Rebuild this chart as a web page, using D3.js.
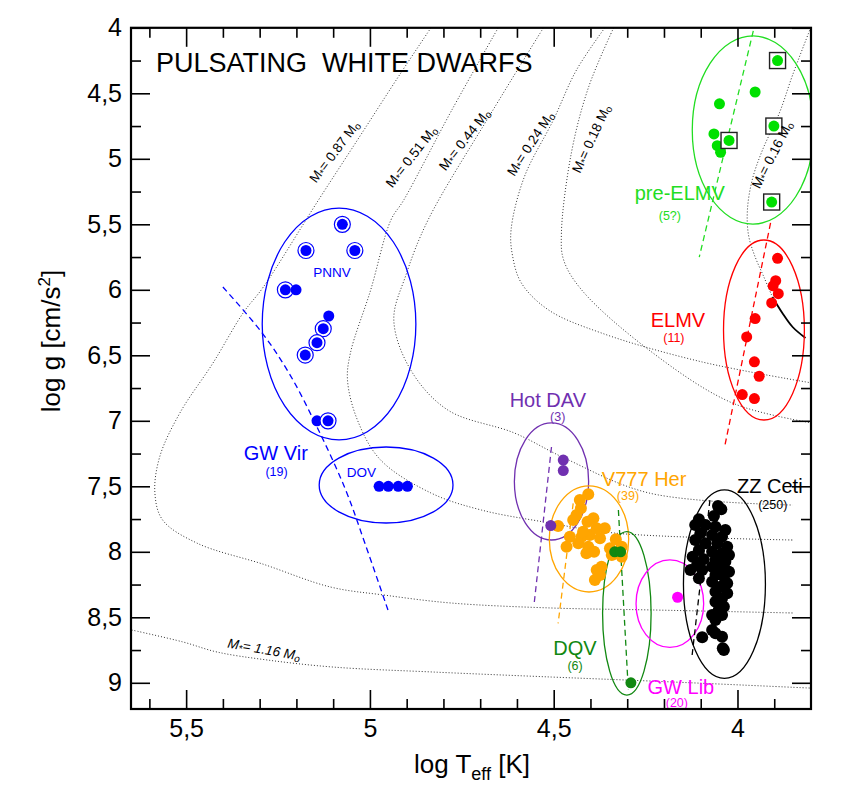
<!DOCTYPE html>
<html><head><meta charset="utf-8">
<script src="https://cdn.jsdelivr.net/npm/d3@7"></script>
<style>body{margin:0;background:#fff;} svg text{font-family:"Liberation Sans",Arial,Helvetica,sans-serif;}</style>
</head><body><svg id="c" width="863" height="796"></svg>
<script>
// ---------- DATA (log Teff, log g) ----------
const xMajor = [5.5, 5, 4.5, 4];
const xMinor = [5.6,5.4,5.3,5.2,5.1,4.9,4.8,4.7,4.6,4.4,4.3,4.2,4.1,3.9];
const yMajor = [4,4.5,5,5.5,6,6.5,7,7.5,8,8.5,9];
const yMinor = [4.25,4.75,5.25,5.75,6.25,6.75,7.25,7.75,8.25,8.75];

// evolutionary tracks
const track087 = [[4.834,4.0],[4.916,4.345],[5.025,4.818],[5.14,5.315],[5.29,5.979],[5.345,6.177],[5.427,6.559],[5.517,6.94],[5.572,7.276],[5.585,7.551],[5.564,7.757],[5.471,7.933],[5.29,8.095],[5.107,8.269],[4.962,8.33],[4.779,8.391],[4.506,8.429],[4.233,8.444],[3.85,8.467]];
const track051 = [[4.651,4.0],[4.777,4.627],[4.908,5.315],[4.943,5.468],[4.998,6.002],[5.053,6.482],[5.061,6.689],[5.034,6.994],[4.971,7.299],[4.834,7.551],[4.697,7.681],[4.525,7.773],[4.334,7.857],[3.85,7.91]];
const track044 = [[4.528,4.0],[4.665,4.627],[4.842,5.468],[4.902,5.887],[4.935,6.231],[4.889,6.612],[4.788,6.918],[4.607,7.093],[4.471,7.284],[4.241,7.551],[3.85,7.643]];
const track024 = [[4.361,4.0],[4.438,4.322],[4.501,4.704],[4.58,5.139],[4.616,5.544],[4.612,5.74],[4.588,5.948],[4.514,6.154],[4.37,6.33],[4.096,6.551],[3.796,6.712]];
const track018 = [[4.337,4.0],[4.405,4.452],[4.452,4.956],[4.479,5.566],[4.473,5.772],[4.424,6.001],[4.241,6.459],[4.014,6.864],[3.796,7.017]];
const track016 = [[3.801,4.0],[3.85,4.36],[3.886,4.65],[3.932,4.933],[3.96,5.162],[3.973,5.391],[3.97,5.582],[3.954,5.734],[3.927,5.91],[3.905,6.055]];
const track016solid = [[3.905,6.055],[3.878,6.177],[3.85,6.284],[3.815,6.368]];
const track116 = [[5.648,8.597],[5.509,8.688],[5.416,8.765],[5.279,8.826],[5.099,8.88],[4.826,8.918],[4.506,8.956],[4.233,8.987],[3.796,9.041]];
const trackMasses = ["0.87","0.51","0.44","0.24","0.18","0.16","1.16"];
const trackLabelPos = [[5.095,4.948,-53],[4.886,4.986,-52],[4.741,4.856,-52],[4.562,4.887,-57],[4.396,4.849,-65],[3.904,4.971,-63],[5.288,8.75,10]];

// instability strips (dashed)
const gwVirStrip = [[5.4,5.979],[5.293,6.33],[5.217,6.651],[5.14,7.07],[5.066,7.528],[5.012,7.948],[4.949,8.46]];
const hotDavStrip = [[4.506,7.2],[4.553,8.391]];
const v777Strip = [[4.447,7.63],[4.488,8.546]];
const dqvStrip = [[4.324,7.681],[4.297,9.055]];
const zzStrip = [[4.075,7.605],[4.124,8.803]];
const elmvStrip = [[3.91,5.49],[4.034,7.185]];
const preElmvStrip = [[3.957,4.024],[4.104,5.75]];

// class regions: [Teff left, Teff right, logg top, logg bottom]
const pnnvRegion = [5.293,4.875,5.376,7.146];
const dovRegion = [5.138,4.774,7.20,7.78];
const hotDavRegion = [4.607,4.405,7.016,7.91];
const v777Region = [4.512,4.296,7.497,8.307];
const dqvRegion = [4.367,4.235,7.846,9.094];
const gwLibRegion = [4.276,4.092,8.062,8.73];
const zzRegion = [4.147,3.924,7.528,8.966];
const elmvRegion = [4.038,3.818,5.62,6.994];
const preElmvRegion = [4.123,3.793,4.062,5.498];

// stars: [log Teff, log g, ringed]
const gwVirPts = [[5.075,5.5,1],[5.174,5.70,1],[5.041,5.70,1],[5.23,6.0,1],[5.201,6.0,0],[5.112,6.2,0],[5.127,6.297,1],[5.144,6.404,1],[5.176,6.498,1],[5.144,7.0,0],[5.114,7.0,1]];
const dovPts = [[4.975,7.5],[4.95,7.5],[4.923,7.5],[4.898,7.5]];
const hotDavPts = [[4.474,7.30],[4.474,7.38],[4.508,7.80]];
const v777Pts = [[4.406,7.561],[4.429,7.605],[4.426,7.668],[4.438,7.719],[4.392,7.744],[4.408,7.770],[4.488,7.803],[4.447,7.757],[4.361,7.821],[4.456,7.885],[4.424,7.885],[4.402,7.872],[4.374,7.897],[4.331,7.905],[4.465,7.961],[4.433,7.935],[4.406,7.961],[4.390,7.999],[4.411,8.011],[4.347,7.973],[4.315,7.961],[4.342,8.024],[4.315,8.037],[4.370,8.114],[4.383,8.139],[4.388,8.215],[4.374,8.177],[4.420,7.847],[4.383,7.821]];
const dqvPts = [[4.334,8.0],[4.318,8.0],[4.29,9.0]];
const gwLibPts = [[4.163,8.347]];
const zzPts = [[4.053,7.650],[4.044,7.676],[4.064,7.727],[4.105,7.752],[4.115,7.795],[4.087,7.795],[4.060,7.808],[4.033,7.834],[4.101,7.859],[4.069,7.872],[4.042,7.885],[4.115,7.910],[4.087,7.935],[4.055,7.935],[4.028,7.961],[4.105,7.986],[4.069,7.999],[4.042,8.011],[4.023,8.024],[4.122,8.037],[4.092,8.057],[4.060,8.063],[4.033,8.076],[4.110,8.101],[4.069,8.114],[4.042,8.126],[4.128,8.139],[4.096,8.139],[4.023,8.152],[4.060,8.177],[4.037,8.190],[4.105,8.202],[4.069,8.228],[4.028,8.240],[4.046,8.266],[4.060,8.305],[4.028,8.317],[4.042,8.355],[4.060,8.381],[4.037,8.419],[4.051,8.444],[4.069,8.482],[4.042,8.482],[4.060,8.521],[4.069,8.597],[4.060,8.622],[4.096,8.653],[4.042,8.648],[4.040,8.737],[4.037,8.750]];
const elmvPts = [[3.891,5.76],[3.896,5.93],[3.903,5.97],[3.889,6.03],[3.907,6.10],[3.952,6.22],[3.975,6.36],[3.954,6.55],[3.941,6.66],[3.987,6.80],[3.954,6.83]];
const preElmvPts = [[3.952,4.49,0],[4.049,4.58,0],[4.064,4.81,0],[4.055,4.90,0],[4.046,4.95,0],[3.891,4.25,1],[4.023,4.86,1],[3.901,4.75,1],[3.907,5.33,1]];

// class labels: [name, count, Teff, logg, color]
const classLabels = [
  ["GW Vir","(19)",5.256,7.299,"#0000ff"],
  ["Hot DAV","(3)",4.516,6.895,"#7030b0"],
  ["V777 Her","(39)",4.254,7.498,"#ffa500"],
  ["DQV","(6)",4.442,8.788,"#118811"],
  ["GW Lib","(20)",4.154,9.082,"#ff00ff"],
  ["ZZ Ceti","(250)",3.912,7.551,"#000000"],
  ["ELMV","(11)",4.162,6.284,"#ff0000"],
  ["pre-ELMV","(5?)",4.157,5.315,"#22dd22"]
];
const countOffsets = [[-0.002,0.125],[-0.027,0.105],[0.044,0.11],[0,0.112],[0.011,0.104],[-0.008,0.125],[0.011,0.118],[0.027,0.155]];

// ---------- DRAW ----------
const svg = d3.select("#c");
const L=131, R=811, T=27.8, B=709;
const x = d3.scaleLinear().domain([5.65,3.80]).range([L,R]);
const y = d3.scaleLinear().domain([4,9.2]).range([T,B]);
const fmt = d => String(d).replace(".", ",");

svg.append("rect").attr("width",863).attr("height",796).attr("fill","#fff");
svg.append("clipPath").attr("id","clip").append("rect").attr("x",L).attr("y",T).attr("width",R-L).attr("height",B-T);
const plot = svg.append("g").attr("clip-path","url(#clip)");

const line = d3.line().x(d=>x(d[0])).y(d=>y(d[1])).curve(d3.curveCatmullRom.alpha(0.5));
const straight = d3.line().x(d=>x(d[0])).y(d=>y(d[1]));

// tracks
[track087,track051,track044,track024,track018,track016,track116].forEach(t=>{
  plot.append("path").attr("d",line(t)).attr("fill","none").attr("stroke","#333")
    .attr("stroke-width",1).attr("stroke-dasharray","1,2");
});
plot.append("path").attr("d",line(track016solid)).attr("fill","none").attr("stroke","#000").attr("stroke-width",1.8);

// track labels
trackMasses.forEach((m,i)=>{
  const p = trackLabelPos[i];
  const t = svg.append("text").attr("transform",`translate(${x(p[0])},${y(p[1])}) rotate(${p[2]})`)
    .attr("text-anchor","middle").attr("dominant-baseline","middle").attr("font-size",13.5).attr("fill","#000")
    .attr("font-style", m==="1.16" ? "italic" : "normal");
  t.append("tspan").text("M");
  t.append("tspan").attr("font-size",10).attr("dy",3).text("*");
  t.append("tspan").attr("dy",-3).text("= "+m+" M");
  t.append("tspan").attr("font-size",10).attr("dy",3).text("o");
});

// regions (ellipses)
function ell(r,color){
  const cx=(x(r[0])+x(r[1]))/2, cy=(y(r[2])+y(r[3]))/2;
  plot.append("ellipse").attr("cx",cx).attr("cy",cy)
    .attr("rx",Math.abs(x(r[1])-x(r[0]))/2).attr("ry",Math.abs(y(r[3])-y(r[2]))/2)
    .attr("fill","none").attr("stroke",color).attr("stroke-width",1.3);
}
ell(pnnvRegion,"#0000ff"); ell(dovRegion,"#0000ff"); ell(hotDavRegion,"#7030b0");
ell(v777Region,"#ffa500"); ell(dqvRegion,"#118811"); ell(gwLibRegion,"#ff00ff");
ell(zzRegion,"#000000"); ell(elmvRegion,"#ff0000"); ell(preElmvRegion,"#22dd22");

// strips
function strip(s,color,curved){
  plot.append("path").attr("d",(curved?line:straight)(s)).attr("fill","none").attr("stroke",color)
    .attr("stroke-width",1.3).attr("stroke-dasharray","6,4");
}
strip(gwVirStrip,"#0000ff",true); strip(hotDavStrip,"#7030b0"); strip(v777Strip,"#ffa500");
strip(dqvStrip,"#118811"); strip(zzStrip,"#000000"); strip(elmvStrip,"#ff0000"); strip(preElmvStrip,"#22dd22");

// points
function dots(pts,color,r){
  pts.forEach(p=>{
    plot.append("circle").attr("cx",x(p[0])).attr("cy",y(p[1])).attr("r",r||5.5).attr("fill",color);
  });
}
gwVirPts.forEach(p=>{
  if(p[2]){
    plot.append("circle").attr("cx",x(p[0])).attr("cy",y(p[1])).attr("r",8).attr("fill","#fff").attr("stroke","#0000ff").attr("stroke-width",1.2);
  }
  plot.append("circle").attr("cx",x(p[0])).attr("cy",y(p[1])).attr("r",5.5).attr("fill","#0000ff");
});
dots(dovPts,"#0000ff");
dots(v777Pts,"#ffa500",6);
dots(hotDavPts,"#7030b0");
dots(dqvPts,"#118811");
dots(gwLibPts,"#ff00ff");
dots(zzPts,"#000000",6);
dots(elmvPts,"#ff0000");
preElmvPts.forEach(p=>{
  if(p[2]) plot.append("rect").attr("x",x(p[0])-8).attr("y",y(p[1])-8).attr("width",16).attr("height",16)
    .attr("fill","#fff").attr("stroke","#222").attr("stroke-width",1.4);
  plot.append("circle").attr("cx",x(p[0])).attr("cy",y(p[1])).attr("r",5.5).attr("fill","#00e000");
});

// class labels
classLabels.forEach((c,i)=>{
  svg.append("text").attr("x",x(c[2])).attr("y",y(c[3])).attr("text-anchor","middle")
    .attr("font-size",20).attr("fill",c[4]).text(c[0]);
  svg.append("text").attr("x",x(c[2]+countOffsets[i][0])).attr("y",y(c[3]+countOffsets[i][1])).attr("text-anchor","middle")
    .attr("font-size",12.5).attr("fill",c[4]).text(c[1]);
});
svg.append("text").attr("x",x(5.103)).attr("y",y(5.902)).attr("text-anchor","middle").attr("font-size",13.5).attr("fill","#0000ff").text("PNNV");
svg.append("text").attr("x",x(5.023)).attr("y",y(7.429)).attr("text-anchor","middle").attr("font-size",13.5).attr("fill","#0000ff").text("DOV");

// title
svg.append("text").attr("x",156).attr("y",72).attr("font-size",27).attr("fill","#000").attr("xml:space","preserve").text("PULSATING  WHITE DWARFS");

// axes
function styleAxis(g){ g.select(".domain").remove(); g.selectAll("line").attr("stroke","#000").attr("stroke-width",1.6); g.selectAll("text").attr("font-size",25).attr("fill","#000").attr("font-family","Liberation Sans, Arial, sans-serif"); }
svg.append("g").attr("transform",`translate(0,${B})`).call(d3.axisBottom(x).tickValues(xMajor).tickSize(-19).tickPadding(10).tickFormat(fmt)).call(styleAxis);
svg.append("g").attr("transform",`translate(0,${B})`).call(d3.axisBottom(x).tickValues(xMinor).tickSize(-10).tickFormat("")).call(styleAxis);
svg.append("g").attr("transform",`translate(0,${T})`).call(d3.axisTop(x).tickValues(xMajor).tickSize(-19).tickFormat("")).call(styleAxis);
svg.append("g").attr("transform",`translate(0,${T})`).call(d3.axisTop(x).tickValues(xMinor).tickSize(-10).tickFormat("")).call(styleAxis);
svg.append("g").attr("transform",`translate(${L},0)`).call(d3.axisLeft(y).tickValues(yMajor).tickSize(-19).tickPadding(9).tickFormat(fmt)).call(styleAxis);
svg.append("g").attr("transform",`translate(${L},0)`).call(d3.axisLeft(y).tickValues(yMinor).tickSize(-10).tickFormat("")).call(styleAxis);
svg.append("g").attr("transform",`translate(${R},0)`).call(d3.axisRight(y).tickValues(yMajor).tickSize(-19).tickFormat("")).call(styleAxis);
svg.append("g").attr("transform",`translate(${R},0)`).call(d3.axisRight(y).tickValues(yMinor).tickSize(-10).tickFormat("")).call(styleAxis);
svg.append("rect").attr("x",L).attr("y",T).attr("width",R-L).attr("height",B-T).attr("fill","none").attr("stroke","#000").attr("stroke-width",2.2);

// axis titles
const xt = svg.append("text").attr("x",472).attr("y",773).attr("text-anchor","middle").attr("font-size",26).attr("fill","#000");
xt.append("tspan").text("log T");
xt.append("tspan").attr("font-size",18).attr("dy",7).text("eff");
xt.append("tspan").attr("dy",-7).text(" [K]");
const yt = svg.append("text").attr("transform","translate(60,341) rotate(-90)").attr("text-anchor","middle").attr("font-size",26).attr("fill","#000");
yt.append("tspan").text("log g [cm/s");
yt.append("tspan").attr("font-size",17).attr("dy",-10).text("2");
yt.append("tspan").attr("dy",10).text("]");
</script></body></html>
